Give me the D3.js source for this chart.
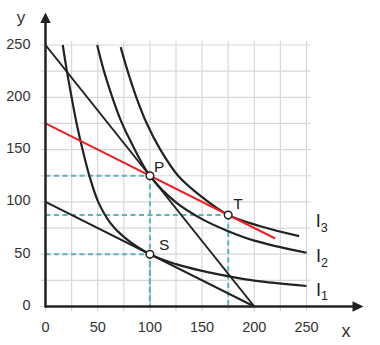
<!DOCTYPE html>
<html>
<head>
<meta charset="utf-8">
<script src="https://cdn.jsdelivr.net/npm/d3@7"></script>
<style>
  html, body { margin: 0; padding: 0; background: #fff; }
  svg { display: block; font-family: "Liberation Sans", Arial, sans-serif; }
</style>
</head>
<body>
<svg id="chart" width="380" height="345"></svg>
<script>
// Axis ticks and grid steps
const xTicks = [0, 50, 100, 150, 200, 250];
const yTicks = [0, 50, 100, 150, 200, 250];
const gridSteps = [0, 25, 50, 75, 100, 125, 150, 175, 200, 225, 250];

// Budget lines and the new price line
const budgetHigh = [[0, 250], [200, 0]];
const budgetLow = [[0, 100], [200, 0]];
const priceLine = [[0, 175], [220, 65]];

// Indifference curves
const curveI1 = [[16.5, 250], [20.5, 225], [25, 200], [29.8, 175], [35.5, 150], [42, 125],
                 [50.5, 100], [62, 80], [75, 66.5], [100, 50], [125, 40.5], [150, 34],
                 [176, 28.8], [200, 24.8], [250, 19.6]];
const curveI2 = [[49.5, 250], [56, 225], [64, 200], [72.5, 177], [82, 157], [100, 125],
                 [125, 99.5], [150, 83.5], [175, 72], [200, 63], [250, 51.4]];
const curveI3 = [[72, 248], [79, 224], [87, 200], [97, 175], [110, 150], [127, 125],
                 [150, 104.5], [175, 87.5], [205, 77], [243, 67.3]];

// Marked optimum points
const pointNames = ["P", "S", "T"];
const pointX = [100, 100, 175];
const pointY = [125, 50, 87.5];

// Curve labels
const curveNames = ["1", "2", "3"];

const svg = d3.select("#chart");
const x = d3.scaleLinear().domain([0, 250]).range([45.5, 306.5]);
const y = d3.scaleLinear().domain([0, 250]).range([306.5, 45]);

const ink = "#222";
const teal = "#5eb2c0";

// Grid
const grid = svg.append("g").attr("stroke", "#d8d8d8").attr("stroke-width", 1.2);
grid.selectAll("line.v").data(gridSteps).join("line")
  .attr("class", "v")
  .attr("x1", d => x(d)).attr("x2", d => x(d))
  .attr("y1", y(0) + 5).attr("y2", y(250) - 4);
grid.selectAll("line.h").data(gridSteps).join("line")
  .attr("class", "h")
  .attr("y1", d => y(d)).attr("y2", d => y(d))
  .attr("x1", x(0) - 5).attr("x2", x(250) + 4);

// Dashed guides to the axes
const guides = svg.append("g")
  .attr("stroke", teal).attr("stroke-width", 2)
  .attr("stroke-dasharray", "5,3.5").attr("fill", "none");
pointNames.forEach((n, i) => {
  guides.append("line")
    .attr("x1", x(0)).attr("x2", x(pointX[i]))
    .attr("y1", y(pointY[i])).attr("y2", y(pointY[i]));
  guides.append("line")
    .attr("x1", x(pointX[i])).attr("x2", x(pointX[i]))
    .attr("y1", y(pointY[i])).attr("y2", y(0));
});

// Straight lines
const straight = d3.line().x(d => x(d[0])).y(d => y(d[1]));
svg.append("path").attr("d", straight(budgetHigh))
  .attr("fill", "none").attr("stroke", ink).attr("stroke-width", 2);
svg.append("path").attr("d", straight(budgetLow))
  .attr("fill", "none").attr("stroke", ink).attr("stroke-width", 2);

// Indifference curves
const smooth = d3.line().x(d => x(d[0])).y(d => y(d[1])).curve(d3.curveCatmullRom.alpha(0.5));
[curveI1, curveI2, curveI3].forEach(c => {
  svg.append("path").attr("d", smooth(c))
    .attr("fill", "none").attr("stroke", ink).attr("stroke-width", 2.2);
});

// Price line
svg.append("path").attr("d", straight(priceLine))
  .attr("fill", "none").attr("stroke", "#e8232a").attr("stroke-width", 2);

// Axes with arrowheads
const axes = svg.append("g");
axes.append("line")
  .attr("x1", x(0)).attr("x2", 355)
  .attr("y1", y(0)).attr("y2", y(0))
  .attr("stroke", ink).attr("stroke-width", 2.5);
axes.append("line")
  .attr("x1", x(0)).attr("x2", x(0))
  .attr("y1", y(0) + 1.2).attr("y2", 20)
  .attr("stroke", ink).attr("stroke-width", 2.5);
axes.append("path")
  .attr("d", `M363.5,${y(0)} L352.5,${y(0) - 5.2} L352.5,${y(0) + 5.2} Z`)
  .attr("fill", ink);
axes.append("path")
  .attr("d", `M${x(0)},12.5 L${x(0) - 5.2},23 L${x(0) + 5.2},23 Z`)
  .attr("fill", ink);

// Tick labels
svg.append("g").selectAll("text").data(xTicks).join("text")
  .attr("x", d => x(d)).attr("y", 331.5)
  .attr("text-anchor", "middle")
  .attr("font-size", 14.5).attr("fill", "#333")
  .text(d => d);
svg.append("g").selectAll("text").data(yTicks).join("text")
  .attr("x", 30.5).attr("y", d => y(d) + 3.5)
  .attr("text-anchor", "end")
  .attr("font-size", 14.5).attr("fill", "#333")
  .text(d => d);

// Axis names
svg.append("text").attr("x", 21).attr("y", 23).attr("text-anchor", "middle")
  .attr("font-size", 17).attr("fill", "#333").text("y");
svg.append("text").attr("x", 346).attr("y", 336.5).attr("text-anchor", "middle")
  .attr("font-size", 18).attr("fill", "#333").text("x");

// Point markers
svg.append("g").selectAll("circle").data(pointNames).join("circle")
  .attr("cx", (d, i) => x(pointX[i])).attr("cy", (d, i) => y(pointY[i]))
  .attr("r", 3.8)
  .attr("fill", "#fff").attr("stroke", ink).attr("stroke-width", 1.5);

// Point labels
const labelOffset = { P: [4, -3.5], S: [9, -4.5], T: [5, -6] };
svg.append("g").selectAll("text").data(pointNames).join("text")
  .attr("x", (d, i) => x(pointX[i]) + labelOffset[d][0])
  .attr("y", (d, i) => y(pointY[i]) + labelOffset[d][1])
  .attr("font-size", 15.5).attr("fill", "#222")
  .text(d => d);

// Curve labels with subscripts
const curveEnds = [curveI1, curveI2, curveI3].map(c => c[c.length - 1]);
const curveLabelShift = [[9.5, 10], [9.5, 9.5], [16.5, -9]];
const lab = svg.append("g").attr("fill", "#222");
curveNames.forEach((n, i) => {
  const e = curveEnds[i];
  const t = lab.append("text")
    .attr("x", x(e[0]) + curveLabelShift[i][0])
    .attr("y", y(e[1]) + curveLabelShift[i][1])
    .attr("font-size", 18);
  t.append("tspan").text("I");
  t.append("tspan").attr("font-size", 12.5).attr("dy", 4.5).text(n);
});
</script>
</body>
</html>
